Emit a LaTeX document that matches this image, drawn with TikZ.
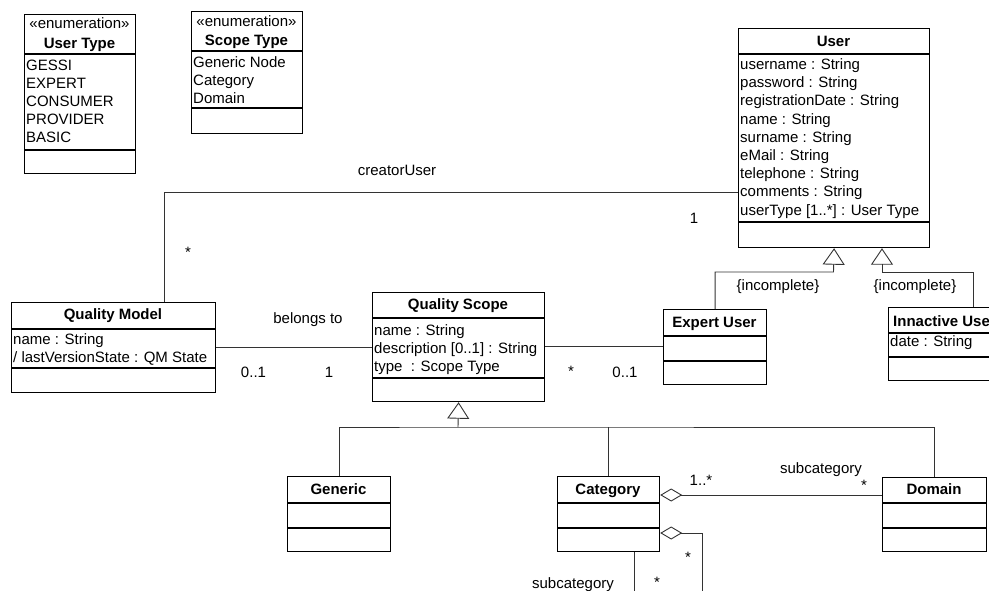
\documentclass[tikz,border=0pt]{standalone}
\usepackage{fontspec}
\setmainfont{Liberation Sans}
\usetikzlibrary{arrows.meta}
% one column of attribute lines, aligned on the first baseline
\newcommand{\attrlines}[1]{\begin{tabular}[t]{@{}l@{}}#1\end{tabular}}
\begin{document}
\begin{tikzpicture}[x=1pt,y=-1pt,
  umlbox/.style={draw=black, line width=1.2pt, inner sep=0pt, anchor=north west},
  sep/.style={draw=black, line width=1.2pt},
  title/.style={font=\fontsize{15}{18}\selectfont\bfseries, anchor=base, inner sep=0pt},
  stereo/.style={font=\fontsize{15}{18}\selectfont, anchor=base, inner sep=0pt},
  attrs/.style={font=\fontsize{15}{18.2}\selectfont, anchor=base west, inner sep=0pt},
  lbl/.style={font=\fontsize{15}{18}\selectfont, anchor=base, inner sep=0pt},
  conn/.style={draw=black!80, line width=0.9pt},
  gen/.style={conn, -{Triangle[open, length=16.5pt, width=22pt]}},
  agg/.style={conn, -{Diamond[open, length=22pt, width=13pt]}},
]
\useasboundingbox (0,0) rectangle (989,590);
\fill[white] (0,0) rectangle (989,590);
\begin{scope}
\clip (0,0) rectangle (989,590);

% ---------- enumerations ----------
\node[umlbox, minimum width=111pt, minimum height=159pt] (usertype) at (24,14) {};
\draw[sep] (24,54) -- (135,54);
\draw[sep] (24,150) -- (135,150);
\node[stereo] (usertype-st) at (79.5,28.5) {«enumeration»};
\node[title] (usertype-name) at (79.5,48) {User Type};
\node[attrs] (usertype-attrs) at (26,70) {\attrlines{GESSI\\EXPERT\\CONSUMER\\PROVIDER\\BASIC}};

\node[umlbox, minimum width=111pt, minimum height=122pt] (scopetype) at (191,11) {};
\draw[sep] (191,51) -- (302,51);
\draw[sep] (191,108) -- (302,108);
\node[stereo] (scopetype-st) at (246.5,26) {«enumeration»};
\node[title] (scopetype-name) at (246.5,45) {Scope Type};
\node[attrs] (scopetype-attrs) at (193,67) {\attrlines{Generic Node\\Category\\Domain}};

% ---------- User ----------
\node[umlbox, minimum width=191pt, minimum height=219pt] (user) at (738,28) {};
\draw[sep] (738,54) -- (929,54);
\draw[sep] (738,222) -- (929,222);
\node[title] (user-name) at (833.5,46) {User};
\node[attrs] (user-attrs) at (740,69.5) {\attrlines{username : String\\password : String\\registrationDate : String\\name : String\\surname : String\\eMail : String\\telephone : String\\comments : String\\userType [1..*] : User Type}};

% ---------- Quality Model ----------
\node[umlbox, minimum width=204pt, minimum height=90pt] (qm) at (11,302) {};
\draw[sep] (11,329) -- (215,329);
\draw[sep] (11,368) -- (215,368);
\node[title] (qm-name) at (113,319) {Quality Model};
\node[attrs] (qm-attrs) at (13,344) {\attrlines{name : String\\/ lastVersionState : QM State}};

% ---------- Quality Scope ----------
\node[umlbox, minimum width=172pt, minimum height=109pt] (qs) at (372,292) {};
\draw[sep] (372,318) -- (544,318);
\draw[sep] (372,378) -- (544,378);
\node[title] (qs-name) at (458,309.5) {Quality Scope};
\node[attrs] (qs-attrs) at (374,335) {\attrlines{name : String\\description [0..1] : String\\type\ \ : Scope Type}};

% ---------- Expert User ----------
\node[umlbox, minimum width=103pt, minimum height=75pt] (expert) at (663,309) {};
\draw[sep] (663,336) -- (766,336);
\draw[sep] (663,361) -- (766,361);
\node[title] (expert-name) at (714.5,327) {Expert User};

% ---------- Innactive User ----------
\node[umlbox, minimum width=113pt, minimum height=73pt] (inactive) at (888,307) {};
\draw[sep] (888,333) -- (1001,333);
\draw[sep] (888,357) -- (1001,357);
\node[title] (inactive-name) at (944.5,326.5) {Innactive User};
\node[attrs] (inactive-attrs) at (890,346.5) {\attrlines{date : String}};

% ---------- Generic / Category / Domain ----------
\node[umlbox, minimum width=103pt, minimum height=75pt] (generic) at (287,476) {};
\draw[sep] (287,503) -- (390,503);
\draw[sep] (287,528) -- (390,528);
\node[title] (generic-name) at (338.5,494.5) {Generic};

\node[umlbox, minimum width=102pt, minimum height=75pt] (category) at (557,476) {};
\draw[sep] (557,503) -- (659,503);
\draw[sep] (557,528) -- (659,528);
\node[title] (category-name) at (608,494.5) {Category};

\node[umlbox, minimum width=104pt, minimum height=74pt] (domain) at (882,477) {};
\draw[sep] (882,503) -- (986,503);
\draw[sep] (882,528) -- (986,528);
\node[title] (domain-name) at (934,494.5) {Domain};

% ---------- associations ----------
\draw[conn] (user.west |- 0,192) -| (qm.north -| 164,0);
\node[lbl] (l-creator) at (397,175) {creatorUser};
\node[lbl] (l-creator-1) at (694,223) {1};
\node[lbl] (l-creator-m) at (188,257) {*};

\draw[conn] (qm.east |- 0,347) -- (qs.west |- 0,347);
\node[lbl] (l-belongs) at (308,323) {belongs to};
\node[lbl] (l-belongs-a) at (253.5,377) {0..1};
\node[lbl] (l-belongs-b) at (329,377) {1};

\draw[conn] (qs.east |- 0,346) -- (expert.west |- 0,346);
\node[lbl] (l-exp-m) at (571,376) {*};
\node[lbl] (l-exp-a) at (625,377) {0..1};

% ---------- generalizations of User ----------
\coordinate (ubendL) at (833.5,272);
\coordinate (ubendR) at (882,272);
\draw[gen] (expert.north) |- (ubendL) -- (user.south);
\draw[gen] (inactive.north -| 973,0) |- (ubendR) -- (user.south -| 882,0);
\node[lbl] (l-inc-a) at (778,290) {\{incomplete\}};
\node[lbl] (l-inc-b) at (915,290) {\{incomplete\}};

% ---------- generalizations of Quality Scope ----------
\coordinate (bus) at (458,427);
\draw[gen] (bus) -- (qs.south);
\draw[conn] (generic.north) |- (bus) -| (domain.north);
\draw[conn] (category.north) -- (category.north |- bus);

% ---------- aggregations of Category ----------
\draw[agg] (domain.west |- 0,495) -- (category.east |- 0,495);
\node[lbl] (l-agg-a) at (701,485) {1..*};
\node[lbl] (l-agg-name) at (821,473) {subcategory};
\node[lbl] (l-agg-b) at (864,490) {*};

\coordinate (selfend) at (702,600);
\coordinate (selfstart) at (634,600);
\draw[agg] (selfend) |- (category.east |- 0,533);
\draw[conn] (category.south -| 634,0) -- (selfstart);
\node[lbl] (l-self-a) at (688,562) {*};
\node[lbl] (l-self-b) at (657,587) {*};
\node[lbl] (l-self-name) at (573,588) {subcategory};
\end{scope}
\end{tikzpicture}
\end{document}
